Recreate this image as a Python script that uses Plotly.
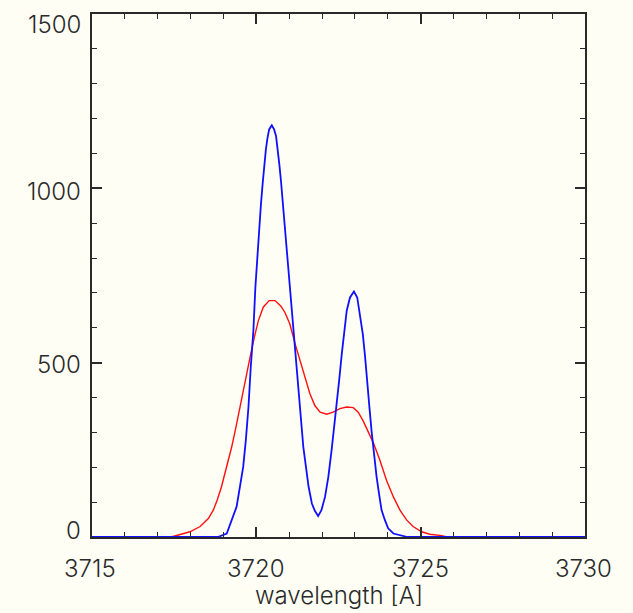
import plotly.graph_objects as go

# Observed line profile (blue) and the smoothed profile (red)
blue_wl = [3715.00, 3718.83, 3719.10, 3719.25, 3719.40, 3719.50, 3719.60, 3719.68,
           3719.76, 3719.83, 3719.91, 3719.97, 3720.03, 3720.09, 3720.14, 3720.19,
           3720.24, 3720.29, 3720.34, 3720.39, 3720.47, 3720.54, 3720.60, 3720.65,
           3720.70, 3720.75, 3720.80, 3720.86, 3720.92, 3720.98, 3721.03, 3721.11,
           3721.17, 3721.23, 3721.29, 3721.35, 3721.43, 3721.51, 3721.59, 3721.69,
           3721.78, 3721.88, 3721.98, 3722.09, 3722.19, 3722.29, 3722.37, 3722.44,
           3722.52, 3722.60, 3722.67, 3722.75, 3722.85, 3722.97, 3723.07, 3723.15,
           3723.24, 3723.31, 3723.38, 3723.44, 3723.51, 3723.58, 3723.66, 3723.74,
           3723.81, 3723.91, 3724.01, 3724.17, 3724.42, 3724.60, 3730.00]
blue_flux = [0, 0, 10, 49, 87, 144, 201, 277,
             372, 487, 592, 715, 811, 887, 954, 1011,
             1069, 1111, 1145, 1169, 1181, 1169, 1150, 1116,
             1069, 1021, 964, 887, 830, 764, 706, 601,
             544, 468, 392, 325, 258, 201, 144, 96,
             75, 60, 77, 115, 172, 249, 315, 382,
             449, 525, 592, 649, 687, 704, 687, 640,
             582, 516, 449, 373, 300, 235, 172, 120,
             77, 49, 25, 10, 3, 0, 0]

red_wl = [3715.00, 3717.40, 3717.52, 3717.98, 3718.29, 3718.54, 3718.69, 3718.81,
          3718.94, 3719.10, 3719.25, 3719.38, 3719.50, 3719.62, 3719.72, 3719.83,
          3719.94, 3720.06, 3720.21, 3720.39, 3720.57, 3720.75, 3720.87, 3721.02,
          3721.18, 3721.33, 3721.48, 3721.63, 3721.78, 3721.94, 3722.14, 3722.34,
          3722.54, 3722.75, 3722.95, 3723.10, 3723.25, 3723.38, 3723.56, 3723.76,
          3723.96, 3724.17, 3724.37, 3724.57, 3724.77, 3725.03, 3725.28, 3725.64,
          3725.80, 3730.00]
red_flux = [0, 0, 3, 15, 30, 53, 77, 106,
            144, 201, 258, 315, 373, 430, 478, 525,
            573, 620, 659, 678, 678, 662, 644, 611,
            554, 506, 458, 411, 377, 358, 352, 358,
            368, 373, 371, 358, 333, 308, 270, 220,
            163, 115, 77, 49, 30, 15, 8, 4,
            0, 0]

x_ticks = [3715, 3720, 3725, 3730]
y_ticks = [0, 500, 1000, 1500]
x_title = "wavelength [A]"

BG = "#fefef4"
INK = "#2a2a2a"
FONT = dict(family="Inter, DejaVu Sans", size=24, color=INK, weight=300)

fig = go.Figure()
fig.add_trace(go.Scatter(x=red_wl, y=red_flux, mode="lines",
                         line=dict(color="#ff1010", width=1.4), hoverinfo="skip"))
fig.add_trace(go.Scatter(x=blue_wl, y=blue_flux, mode="lines",
                         line=dict(color="#1010ff", width=1.8), hoverinfo="skip"))

axis_common = dict(
    showgrid=False, zeroline=False, showline=True, linecolor=INK, linewidth=1.5,
    mirror="ticks", ticks="inside", ticklen=10, tickwidth=1.5, tickcolor=INK,
    showticklabels=False,
)

fig.update_xaxes(range=[3715, 3730], tickmode="array", tickvals=x_ticks,
                 minor=dict(dtick=1, ticks="inside", ticklen=5, tickwidth=1.3,
                            tickcolor=INK, showgrid=False),
                 **axis_common)
fig.update_yaxes(range=[0, 1500], tickmode="array", tickvals=y_ticks,
                 minor=dict(dtick=100, ticks="inside", ticklen=5, tickwidth=1.3,
                            tickcolor=INK, showgrid=False),
                 **axis_common)

annotations = []
# y tick labels, nudged inward at the ends like the original plotting package
y_shift = {0: 7, 500: -2, 1000: -3, 1500: -10}
for v in y_ticks:
    annotations.append(dict(x=0, xref="paper", y=v, yref="y", text=str(v),
                            showarrow=False, xanchor="right", yanchor="middle",
                            xshift=-9, yshift=y_shift[v], font=FONT))
x_shift = {3715: -2, 3720: 0, 3725: 0, 3730: -2}
for v in x_ticks:
    annotations.append(dict(x=v, xref="x", y=0, yref="paper", text=str(v),
                            showarrow=False, xanchor="center", yanchor="middle",
                            xshift=x_shift[v], yshift=-31, font=FONT))
annotations.append(dict(x=0.5, xref="paper", y=0, yref="paper", text=x_title,
                        showarrow=False, xanchor="center", yanchor="bottom",
                        yshift=-75, font=FONT))

fig.update_layout(
    width=633, height=613,
    margin=dict(l=92, r=48, t=12, b=76),
    paper_bgcolor=BG, plot_bgcolor=BG,
    showlegend=False,
    annotations=annotations,
)

fig.write_html("out.html")
